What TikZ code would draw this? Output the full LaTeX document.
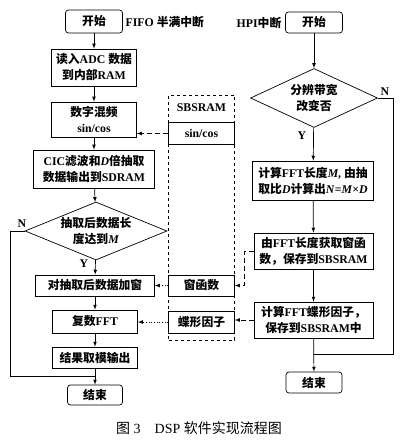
\documentclass[tikz,border=0pt]{standalone}
\usepackage{fontspec}
\setmainfont{Liberation Serif}
\newfontfamily\zhfont{Noto Sans CJK SC}
\newcommand{\zh}[1]{{\zhfont #1}}
\usetikzlibrary{shapes.geometric,arrows}

\begin{document}
\begin{tikzpicture}[x=1pt,y=-1pt,line width=0.7pt,
    font=\fontsize{11.8}{16}\selectfont\bfseries,
    box/.style={draw,align=center,inner sep=0pt},
    term/.style={box,rounded corners=3pt},
    ask/.style={draw,diamond,align=center,inner sep=0pt,shape aspect=2.4},
    feed/.style={-latex,dashed,dash pattern=on 5pt off 3pt},
    fetch/.style={-latex,dotted}]
    \useasboundingbox (0,0) rectangle (402,443);

    % left: FIFO interrupt
    \node[term,minimum width=57,minimum height=23] (start1) at (94,21.5) {\zh{开始}};
    \node[anchor=west] (fifo) at (122,22) {FIFO \zh{半满中断}};
    \node[box,minimum width=85,minimum height=37] (read) at (94,67.5) {\zh{读入}ADC \zh{数据}\\\zh{到内部}RAM};
    \node[box,minimum width=85,minimum height=35] (mix) at (94,119.5) {\zh{数字混频}\\sin/cos};
    \node[box,minimum width=121,minimum height=38] (cic) at (94,169) {CIC\zh{滤波和}\textit{D}\zh{倍抽取}\\\zh{数据输出到}SDRAM};
    \node[ask,minimum width=142,minimum height=58] (dec1) at (96,231) {\zh{抽取后数据长}\\\zh{度达到}\textit{M}};
    \node[box,minimum width=119,minimum height=21] (win) at (95,285.5) {\zh{对抽取后数据加窗}};
    \node[box,minimum width=85,minimum height=23] (fft) at (95,321.5) {\zh{复数}FFT};
    \node[box,minimum width=85,minimum height=21] (mag) at (95,357.5) {\zh{结果取模输出}};
    \node[term,minimum width=55,minimum height=20] (end1) at (95,395) {\zh{结束}};
    \node (n1) at (22,224) {N};
    \node (y1) at (84,264) {Y};
    \coordinate (jL) at (95,376);

    % middle: SBSRAM
    \node[draw,dashed,minimum width=66,minimum height=245] (sbs) at (201.5,217.5) {};
    \node (sbsname) at (201.5,108) {SBSRAM};
    \node[box,minimum width=66,minimum height=22] (sincos) at (201.5,133.5) {sin/cos};
    \node[box,minimum width=66,minimum height=21] (winfun) at (201.5,285.5) {\zh{窗函数}};
    \node[box,minimum width=66,minimum height=22] (twiddle) at (201.5,322) {\zh{蝶形因子}};

    % right: HPI interrupt
    \node[term,minimum width=57,minimum height=21] (start2) at (314,22.5) {\zh{开始}};
    \node[anchor=east] (hpi) at (285,23) {HPI\zh{中断}};
    \node[ask,minimum width=127,minimum height=59] (dec2) at (314,98) {\zh{分辨带宽}\\\zh{改变否}};
    \node[box,minimum width=121,minimum height=39] (calc) at (313,180.5) {\zh{计算}FFT\zh{长度}\textit{M}, \zh{由抽}\\\zh{取比}\textit{D}\zh{计算出}\textit{N}=\textit{M}×\textit{D}};
    \node[box,minimum width=119,minimum height=36] (getwin) at (313.5,251) {\zh{由}FFT\zh{长度获取窗函}\\\zh{数，保存到}SBSRAM};
    \node[box,minimum width=119,minimum height=36] (calctw) at (313.5,320) {\zh{计算}FFT\zh{蝶形因子，}\\\zh{保存到}SBSRAM\zh{中}};
    \node[term,minimum width=56,minimum height=21] (end2) at (314,382.5) {\zh{结束}};
    \node (n2) at (385,92) {N};
    \node (y2) at (302,136) {Y};
    \coordinate (jR) at (314,354);

    \node[font=\fontsize{14}{16}\selectfont] (cap) at (199,428) {\zh{图} 3\quad DSP \zh{软件实现流程图}};

    \draw[-latex] (start1) edge (read) (read) edge (mix) (mix) edge (cic)
    (cic) edge (dec1) (dec1) edge (win) (win) edge (fft) (fft) edge (mag)
    (mag) edge (end1);
    \draw (dec1.west) -- ++(-14,0) |- (jL);

    \draw[-latex] (start2) edge (dec2) (dec2) edge (calc) (calc) edge (getwin)
    (getwin) edge (calctw) (calctw) edge (end2);
    \draw (dec2.east) -- ++(15,0) |- (jR);

    \draw[feed] (sincos.west) -- (sincos.west -| mix.east);
    \draw[fetch] (winfun) -- (win);
    \draw[fetch] (twiddle.west) -- (twiddle.west -| fft.east);
    \draw[feed] (getwin.west) -- ++(-9,0) |- (winfun.east);
    \draw[feed] (calctw.west) -- (calctw.west -| twiddle.east);
  \end{tikzpicture}
\end{document}
